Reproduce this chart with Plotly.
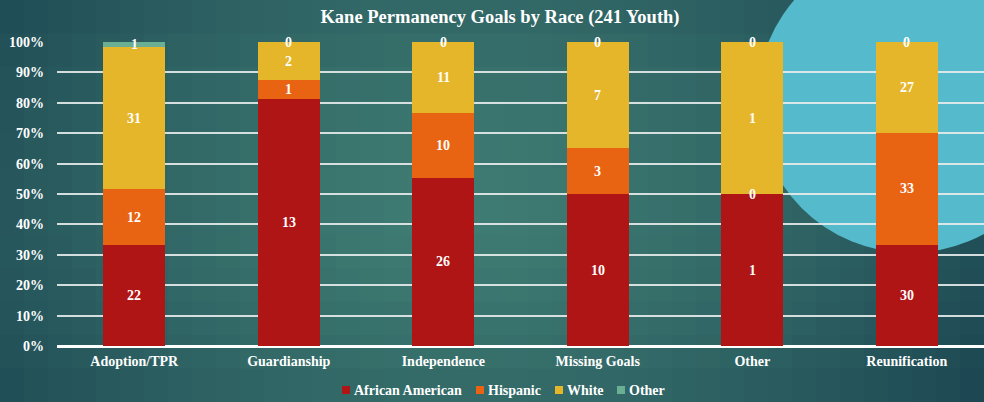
import plotly.graph_objects as go

categories = ["Adoption/TPR", "Guardianship", "Independence", "Missing Goals", "Other", "Reunification"]
series_names = ["African American", "Hispanic", "White", "Other"]
african_american = [22, 13, 26, 10, 1, 30]
hispanic = [12, 1, 10, 3, 0, 33]
white = [31, 2, 11, 7, 1, 27]
other = [1, 0, 0, 0, 0, 0]
y_ticks = list(range(0, 101, 10))
y_tick_labels = [f"{v}%" for v in y_ticks]

series_values = [african_american, hispanic, white, other]
colors = ["#B01515", "#E86412", "#E5B62A", "#6AAE94"]

W, H = 984, 402
ML, MR, MT, MB = 57, 0, 42, 56
PW, PH = W - ML - MR, H - MT - MB
FONT = "Liberation Serif, Times New Roman, serif"

def bfont(size):
    return dict(family=FONT, size=size, color="white", weight="bold")

fig = go.Figure()
for name, vals, col in zip(series_names, series_values, colors):
    fig.add_trace(go.Bar(x=categories, y=vals, name=name, marker=dict(color=col, line=dict(width=0)),
                         showlegend=False))

def px2paper(px, py):
    return (px - ML) / PW, (H - MB - py) / PH

# data labels computed from data
totals = [sum(s[i] for s in series_values) for i in range(len(categories))]
annotations = []
for i, cat in enumerate(categories):
    cum = 0.0
    for vals in series_values:
        pct = vals[i] / totals[i] * 100
        mid = cum + pct / 2
        cum += pct
        if vals[i] == 0 and cum < 1e-9:
            continue
        annotations.append(dict(x=cat, y=mid, xref="x", yref="y", text=str(vals[i]), showarrow=False,
                                font=bfont(14), yanchor="middle"))

def lerp(a, b, t):
    return tuple(int(round(a[k] + (b[k] - a[k]) * t)) for k in range(3))

light = (0x3F, 0x7C, 0x73)
dark = (0x1C, 0x47, 0x52)
shapes = []
NX, NY = 41, 12
for ix in range(NX):
    for iy in range(NY):
        x0p, x1p = W * ix / NX, W * (ix + 1) / NX + 1
        y0p, y1p = H * iy / NY, H * (iy + 1) / NY + 1
        cx, cy = (x0p + x1p) / 2, (y0p + y1p) / 2
        d = (((cx - 460) / 580) ** 2 + ((cy - 210) / 400) ** 2) ** 0.5
        t = min(1.0, max(0.0, d)) ** 1.4
        c = lerp(light, dark, t)
        ax0, ay1 = px2paper(x0p, y0p)
        ax1, ay0 = px2paper(x1p, y1p)
        shapes.append(dict(type="rect", xref="paper", yref="paper", x0=ax0, x1=ax1, y0=ay0, y1=ay1,
                           fillcolor=f"rgb{c}", line=dict(width=0), layer="below"))

# light-blue circle decoration
ccx, ccy, cr = 910, 100, 153
cx0, cy1 = px2paper(ccx - cr, ccy - cr)
cx1, cy0 = px2paper(ccx + cr, ccy + cr)
shapes.append(dict(type="circle", xref="paper", yref="paper", x0=cx0, x1=cx1, y0=cy0, y1=cy1,
                   fillcolor="#55BACB", line=dict(width=0), layer="below"))

# manual legend (compact, like the reference)
legend_square_x = [342, 476, 555, 617]
legend_y = 390
for name, col, sx in zip(series_names, colors, legend_square_x):
    a0, b1 = px2paper(sx, legend_y - 4)
    a1, b0 = px2paper(sx + 8, legend_y + 4)
    shapes.append(dict(type="rect", xref="paper", yref="paper", x0=a0, x1=a1, y0=b0, y1=b1,
                       fillcolor=col, line=dict(width=0), layer="above"))
    tx, ty = px2paper(sx + 10, legend_y)
    annotations.append(dict(x=tx, y=ty, xref="paper", yref="paper", text=name, showarrow=False,
                            xanchor="left", yanchor="middle", font=bfont(14)))

fig.update_layout(
    width=W, height=H,
    margin=dict(l=ML, r=MR, t=MT, b=MB, pad=0, autoexpand=False),
    barmode="stack", barnorm="percent", bargap=0.6,
    paper_bgcolor="#2B5F62", plot_bgcolor="rgba(0,0,0,0)",
    font=bfont(14),
    title=dict(text="Kane Permanency Goals by Race (241 Youth)", x=(500 - ML) / PW, xref="paper",
               xanchor="center", y=1 - 17 / H, yanchor="middle", font=bfont(18.5)),
    xaxis=dict(tickfont=bfont(14), showgrid=False, ticks="", ticklabelstandoff=5),
    yaxis=dict(range=[0, 100], tickvals=y_ticks, ticktext=y_tick_labels,
               showgrid=True, gridcolor="rgba(232,236,236,0.9)", gridwidth=2,
               zeroline=True, zerolinecolor="white", zerolinewidth=3,
               tickfont=bfont(14), ticklabelstandoff=12),
    showlegend=False,
    shapes=shapes,
    annotations=annotations,
)

fig.write_html("out.html", config={"displayModeBar": False},
               post_script="document.body.style.margin='0px';document.body.style.overflow='hidden';")
